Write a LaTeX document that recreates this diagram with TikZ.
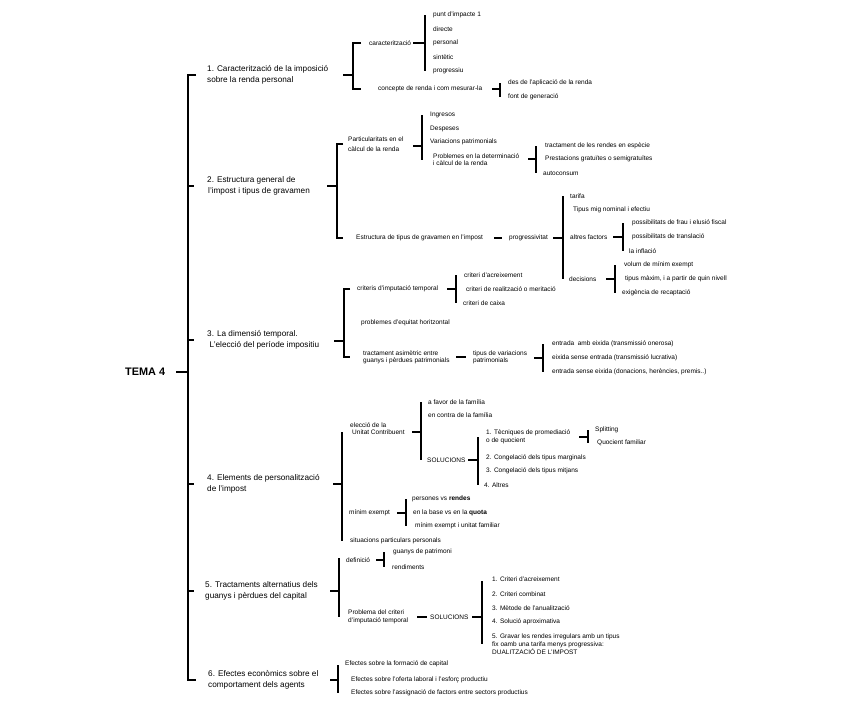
\documentclass[tikz,border=0pt]{standalone}
\usepackage{fontspec}
\setmainfont{Liberation Sans}
\newcommand\leaftxt{\fontsize{6.5}{7.5}\selectfont}
\newcommand\sectxt{\fontsize{8.2}{11}\selectfont}
\begin{document}
\begin{tikzpicture}[x=1pt,y=-1pt,
  txt/.style={anchor=west,inner sep=0pt,font=\leaftxt,align=left},
  twoline/.style={txt,font=\fontsize{6.5}{7.5}\selectfont},
  sec/.style={anchor=west,inner sep=0pt,font=\sectxt,align=left},
  bar/.style={line width=1.4pt},
  mainbar/.style={line width=1.8pt}]
\useasboundingbox (0,0) rectangle (848,718);
% tema
\node[anchor=west,inner sep=0pt,font=\fontsize{10.9}{13}\selectfont\bfseries] (tema) at (125,372) {TEMA 4};
\coordinate (k0) at (188,372);
\node[sec] (sec1) at (207,75) {1. Caracterització de la imposició\\sobre la renda personal};
\node[sec] (sec2) at (207,186) {2. Estructura general de\\\hspace{1pt}l'impost i tipus de gravamen};
\node[sec] (sec3) at (207,340) {3. La dimensió temporal.\\\hspace{2.5pt}L'elecció del període impositiu};
\node[sec] (sec4) at (207,484) {4. Elements de personalització\\de l'impost};
\node[sec] (sec5) at (205,591) {5. Tractaments alternatius dels\\guanys i pèrdues del capital};
\node[sec] (sec6) at (208,680) {6. Efectes econòmics sobre el\\comportament dels agents};
\draw[mainbar] (k0) ++(-12,0) -- (k0);
\draw[mainbar] (k0 |- sec1) ++(8,0) -- ++(-8,0) -- (k0 |- sec6) -- ++(8,0);
\foreach \s in {sec2,sec3,sec4,sec5}
  \draw[mainbar] (k0 |- \s) -- ++(6,0);

% 1
\coordinate (k1) at (353,75);
\node[txt] (car) at (369,43) {caracterització};
\node[txt] (conc) at (378,89) {concepte de renda i com mesurar-la};
\draw[bar] (k1) ++(-10,0) -- (k1);
\draw[bar] (k1 |- car) ++(8,0) -- ++(-8,0) -- (k1 |- conc) -- ++(8,0);
\coordinate (k11) at (425,43);
\node[txt] (pi) at (433,15) {punt d'impacte 1};
\node[txt] (dir) at (433,29) {directe};
\node[txt] (pers) at (433,43) {personal};
\node[txt] (sint) at (433,57) {sintètic};
\node[txt] (prog) at (433,71) {progressiu};
\draw[bar] (k11) ++(-12,0) -- (k11);
\draw[bar] (k11 |- pi) -- (k11 |- prog);
\coordinate (k12) at (500,89);
\node[txt] (apl) at (508,83) {des de l'aplicació de la renda};
\node[txt] (font) at (508,97) {font de generació};
\draw[bar] (k12) ++(-8,0) -- (k12);
\draw[bar] (k12 |- apl) -- (k12 |- font);

% 2
\coordinate (k2) at (337,186);
\node[txt,font=\fontsize{6.5}{10}\selectfont] (part) at (348,144) {Particularitats en el\\càlcul de la renda};
\node[txt] (estr) at (356,238) {Estructura de tipus de gravamen en l'impost};
\draw[bar] (k2) ++(-10,0) -- (k2);
\draw[bar] (k2 |- part) ++(6,0) -- ++(-6,0) -- (k2 |- estr) -- ++(6,0);
\coordinate (k21) at (422,146);
\node[txt] (ingr) at (430,115) {Ingresos};
\node[txt] (desp) at (430,129) {Despeses};
\node[txt] (var) at (430,142) {Variacions patrimonials};
\node[twoline] (probd) at (433,159.5) {Problemes en la determinació\\i càlcul de la renda};
\draw[bar] (k21) ++(-9,0) -- (k21);
\draw[bar] (k21 |- ingr) -- (k21 |- probd);
\coordinate (k211) at (536,159);
\node[txt] (esp) at (545,146) {tractament de les rendes en espècie};
\node[txt] (prest) at (545,159) {Prestacions gratuïtes o semigratuïtes};
\node[txt] (auto) at (543,173) {autoconsum};
\draw[bar] (k211) ++(-8,0) -- (k211);
\draw[bar] (k211 |- esp) -- (k211 |- auto);
\node[txt] (progr) at (509,238) {progressivitat};
\draw[bar] (progr.west) ++(-15,0) -- ++(8,0);
\coordinate (k22) at (563,238);
\node[txt] (tar) at (570,196) {tarifa};
\node[txt] (mig) at (573,210) {Tipus mig nominal i efectiu};
\node[txt] (altr) at (570,237) {altres factors};
\node[txt] (dec) at (569,279) {decisions};
\draw[bar] (k22) ++(-10,0) -- (k22);
\draw[bar] (k22 |- tar) -- (k22 |- dec);
\coordinate (k221) at (623,237);
\node[txt] (frau) at (632,223) {possibilitats de frau i elusió fiscal};
\node[txt] (transl) at (632,237) {possibilitats de translació};
\node[txt] (infl) at (629,251) {la inflació};
\draw[bar] (k221) ++(-10,0) -- (k221);
\draw[bar] (k221 |- frau) -- (k221 |- infl);
\coordinate (k222) at (615,279);
\node[txt] (vol) at (624,265) {volum de mínim exempt};
\node[txt] (tmax) at (625,279) {tipus màxim, i a partir de quin nivell};
\node[txt] (exig) at (622,293) {exigència de recaptació};
\draw[bar] (k222) ++(-9,0) -- (k222);
\draw[bar] (k222 |- vol) -- (k222 |- exig);

% 3
\coordinate (k3) at (344,341);
\node[txt] (crit) at (357,289) {criteris d'imputació temporal};
\node[txt] (prob) at (361,323) {problemes d'equitat horitzontal};
\node[twoline,font=\fontsize{6.5}{7}\selectfont] (trac) at (363,357) {tractament asimètric entre\\guanys i pèrdues patrimonials};
\draw[bar] (k3) ++(-10,0) -- (k3);
\draw[bar] (k3 |- crit) ++(6,0) -- ++(-6,0) -- (k3 |- trac) -- ++(6,0);
\coordinate (k31) at (456,289);
\node[txt] (acr) at (464,275) {criteri d'acreixement};
\node[txt] (real) at (466,289) {criteri de realització o meritació};
\node[txt] (caixa) at (463,303) {criteri de caixa};
\draw[bar] (k31) ++(-9,0) -- (k31);
\draw[bar] (k31 |- acr) -- (k31 |- caixa);
\node[twoline,font=\fontsize{6.5}{7}\selectfont] (tvar) at (473,357) {tipus de variacions\\patrimonials};
\draw[bar] (tvar.west) ++(-17,0) -- ++(10,0);
\coordinate (k32) at (543,358);
\node[txt] (ent1) at (552,344) {entrada \ amb eixida (transmissió onerosa)};
\node[txt] (ent2) at (552,358) {eixida sense entrada (transmissió lucrativa)};
\node[txt] (ent3) at (552,372) {entrada sense eixida (donacions, herències, premis..)};
\draw[bar] (k32) ++(-9,0) -- (k32);
\draw[bar] (k32 |- ent1) -- (k32 |- ent3);

% 4
\coordinate (k4) at (342,484);
\node[twoline,font=\fontsize{6.5}{7}\selectfont] (elec) at (350,429) {elecció de la\\\hspace{2pt}Unitat Contribuent};
\node[txt] (minim) at (349,513) {mínim exempt};
\node[txt] (situ) at (350,541) {situacions particulars personals};
\draw[bar] (k4) ++(-9,0) -- (k4);
\draw[bar] (k4 |- elec) ++(0,3) -- (k4 |- situ);
\coordinate (k41) at (421,432);
\node[txt] (fav) at (428,402) {a favor de la família};
\node[txt] (contra) at (428,415) {en contra de la família};
\node[txt] (sol4) at (427,460) {SOLUCIONS};
\draw[bar] (k41) ++(-9,0) -- (k41);
\draw[bar] (k41 |- fav) -- (k41 |- sol4);
\coordinate (k42) at (478,460);
\node[twoline] (tec) at (486,437) {1. Tècniques de promediació\\o de quocient};
\node[txt] (cong1) at (486,458) {2. Congelació dels tipus marginals};
\node[txt] (cong2) at (486,471) {3. Congelació dels tipus mitjans};
\node[txt] (altres) at (484,485) {4. Altres};
\draw[bar] (k42) ++(-10,0) -- (k42);
\draw[bar] (k42 |- tec) -- (k42 |- altres);
\coordinate (k43) at (588,437);
\node[txt] (split) at (595,430) {Splitting};
\node[txt] (quoc) at (597,443) {Quocient familiar};
\draw[bar] (k43) ++(-9,0) -- (k43);
\draw[bar] (k43 |- split) -- (k43 |- quoc);
\coordinate (k44) at (406,513);
\node[txt] (pvr) at (412,499) {persones vs \textbf{rendes}};
\node[txt] (base) at (413,513) {en la base vs en la \textbf{quota}};
\node[txt] (mfam) at (415,526) {mínim exempt i unitat familiar};
\draw[bar] (k44) ++(-9,0) -- (k44);
\draw[bar] (k44 |- pvr) -- (k44 |- mfam);

% 5
\coordinate (k5) at (339,591);
\node[txt] (def) at (346,560) {definició};
\node[twoline,font=\fontsize{6.5}{8}\selectfont] (probl) at (348,617) {Problema del criteri\\d'imputació temporal};
\draw[bar] (k5) ++(-9,0) -- (k5);
\draw[bar] (k5 |- def) ++(0,-2) -- (k5 |- probl);
\coordinate (k51) at (384,560);
\node[txt] (gpat) at (393,552) {guanys de patrimoni};
\node[txt] (rend) at (392,567) {rendiments};
\draw[bar] (k51) ++(-8,0) -- (k51);
\draw[bar] (k51 |- gpat) -- (k51 |- rend);
\node[txt] (sol5) at (430,617) {SOLUCIONS};
\draw[bar] (sol5.west) ++(-13,0) -- ++(10,0);
\coordinate (k52) at (482,617);
\node[txt] (cr1) at (492,579) {1. Criteri d'acreixement};
\node[txt] (cr2) at (492,594) {2. Criteri combinat};
\node[txt] (cr3) at (492,608) {3. Mètode de l'anualització};
\node[txt] (cr4) at (492,622) {4. Solució aproximativa};
\node[twoline,font=\fontsize{6.5}{8}\selectfont] (cr5) at (492,644) {5. Gravar les rendes irregulars amb un tipus\\fix oamb una tarifa menys progressiva:\\DUALITZACIÓ DE L'IMPOST};
\draw[bar] (k52) ++(-10,0) -- (k52);
\draw[bar] (k52 |- cr1) ++(0,2) -- (k52 |- cr5);

% 6
\coordinate (k6) at (338,680);
\node[txt] (ef1) at (345,664) {Efectes sobre la formació de capital};
\node[txt] (ef2) at (351,680) {Efectes sobre l'oferta laboral i l'esforç productiu};
\node[txt] (ef3) at (351,693) {Efectes sobre l'assignació de factors entre sectors productius};
\draw[bar] (k6) ++(-8,0) -- (k6);
\draw[bar] (k6 |- ef1) ++(0,1) -- (k6 |- ef3);
\end{tikzpicture}
\end{document}
